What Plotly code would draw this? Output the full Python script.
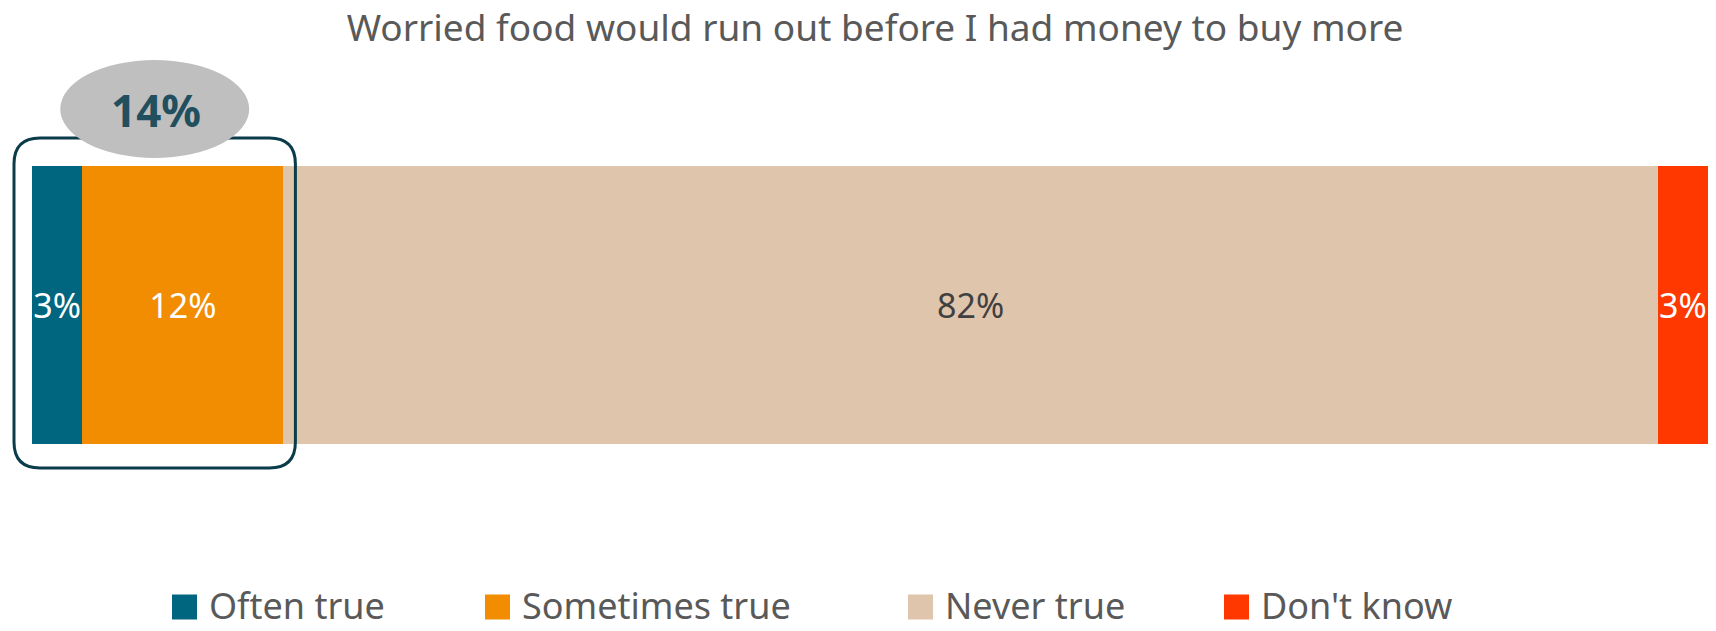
import plotly.graph_objects as go

# Survey item and responses
title_text = "Worried food would run out before I had money to buy more"
categories = ["Often true", "Sometimes true", "Never true", "Don't know"]
values = [3, 12, 82, 3]
colors = ["#00667f", "#f28c00", "#e0c5ad", "#ff3800"]
label_colors = ["#ffffff", "#ffffff", "#404040", "#ffffff"]
combined_label = "14%"

W, H = 1716, 631
M_L, M_R, M_T, M_B = 32, 8, 166, 187
PW, PH = W - M_L - M_R, H - M_T - M_B
FONT = "Noto Sans"


def px_x(p):
    # pixel column -> paper x
    return (p - M_L) / PW


def px_y(p):
    # pixel row -> paper y
    return (H - M_B - p) / PH


fig = go.Figure()
for name, v, c, lc in zip(categories, values, colors, label_colors):
    fig.add_trace(go.Bar(
        x=[v], y=[0], orientation="h", name=name,
        marker=dict(color=c, line=dict(width=0)),
        text=[f"{v}%"], textposition="inside", insidetextanchor="middle",
        textangle=0, constraintext="none",
        textfont=dict(family=FONT, size=34, color=lc),
        width=1, showlegend=False, hoverinfo="skip",
    ))

# Rounded frame around the "true" responses (first two segments)
true_share = values[0] + values[1]
x0 = M_L - 18
x1 = M_L + true_share / sum(values) * PW + 12
y0, y1, r = 138, 468, 26
pts = [
    ("M", x0 + r, y0), ("L", x1 - r, y0), ("Q", x1, y0, x1, y0 + r),
    ("L", x1, y1 - r), ("Q", x1, y1, x1 - r, y1), ("L", x0 + r, y1),
    ("Q", x0, y1, x0, y1 - r), ("L", x0, y0 + r), ("Q", x0, y0, x0 + r, y0),
]
path = ""
for seg in pts:
    cmd, coords = seg[0], seg[1:]
    xy = []
    for i in range(0, len(coords), 2):
        xy.append(f"{px_x(coords[i]):.5f},{px_y(coords[i + 1]):.5f}")
    path += cmd + " ".join(xy) + " "
path += "Z"
fig.add_shape(type="path", path=path, xref="paper", yref="paper",
              line=dict(color="#0b3c4a", width=3), fillcolor="rgba(0,0,0,0)")

# Bubble with the combined share, centred over the frame
cx = (x0 + x1) / 2
fig.add_shape(type="circle", xref="paper", yref="paper",
              x0=px_x(cx - 94.5), x1=px_x(cx + 94.5), y0=px_y(158), y1=px_y(60),
              fillcolor="#bfbfbf", line=dict(width=0))
fig.add_annotation(text=f"<b>{combined_label}</b>", xref="paper", yref="paper",
                   x=px_x(cx + 1), y=px_y(110), xanchor="center", yanchor="middle",
                   showarrow=False, font=dict(family=FONT, size=44, color="#214f5e"))

# Legend row
legend_x = [172, 485, 908, 1224]
sq = 25
ly = 605
for lx, name, c in zip(legend_x, categories, colors):
    fig.add_shape(type="rect", xref="paper", yref="paper",
                  x0=px_x(lx), x1=px_x(lx + sq), y0=px_y(ly + 2 + sq / 2), y1=px_y(ly + 2 - sq / 2),
                  fillcolor=c, line=dict(width=0))
    fig.add_annotation(text=name, xref="paper", yref="paper",
                       x=px_x(lx + sq + 10), y=px_y(ly), xanchor="left", yanchor="middle",
                       showarrow=False, font=dict(family=FONT, size=36, color="#595959"))

fig.update_layout(
    width=W, height=H,
    barmode="stack",
    margin=dict(l=M_L, r=M_R, t=M_T, b=M_B, pad=0),
    paper_bgcolor="#ffffff", plot_bgcolor="#ffffff",
    title=dict(text=title_text, x=875 / W, y=1 - 28 / H, xanchor="center", yanchor="middle",
               font=dict(family=FONT, size=37, color="#595959")),
    xaxis=dict(range=[0, sum(values)], visible=False, fixedrange=True),
    yaxis=dict(range=[-0.5, 0.5], visible=False, fixedrange=True),
    font=dict(family=FONT),
)

fig.write_html("out.html")
